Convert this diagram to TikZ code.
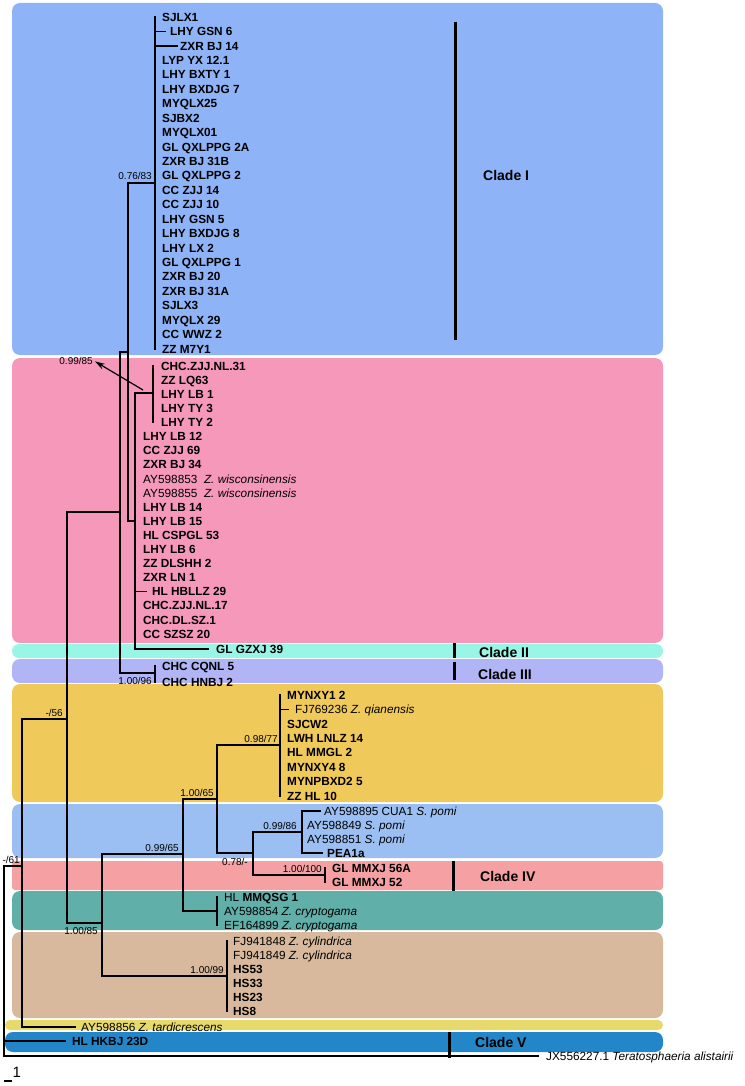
\documentclass[tikz,border=0pt]{standalone}
\usepackage{fontspec}
\setmainfont{Liberation Sans}
\usetikzlibrary{arrows.meta}
\definecolor{cI}{HTML}{8EB4F7}
\definecolor{cPink}{HTML}{F598BA}
\definecolor{cII}{HTML}{99F5E5}
\definecolor{cIII}{HTML}{B1B4F5}
\definecolor{cOr}{HTML}{F0C95B}
\definecolor{cBl}{HTML}{9BBFF2}
\definecolor{cIV}{HTML}{F5A0A2}
\definecolor{cTeal}{HTML}{61AFA9}
\definecolor{cTan}{HTML}{D8B99D}
\definecolor{cYel}{HTML}{E8D96B}
\definecolor{cV}{HTML}{2286C8}
\newcommand\tipfont{\fontsize{11.8}{13}\selectfont}
\tikzset{
  br/.style={line width=1.3pt, line cap=rect},
  tipn/.style={anchor=west, inner sep=0pt, text height=8.5pt, text depth=0pt, font=\tipfont\bfseries},
  accn/.style={tipn, font=\tipfont},
  supl/.style={anchor=base east, inner sep=0pt, font=\fontsize{10}{11}\selectfont},
  cladelab/.style={anchor=west, inner sep=0pt, font=\fontsize{14}{16}\selectfont\bfseries},
  cbar/.style={line width=3pt},
  bgbox/.style={rounded corners=8pt},
}
\begin{document}
\begin{tikzpicture}[x=1pt,y=-1pt]
\useasboundingbox (0,0) rectangle (744,1086);
% background boxes
\fill[cI,bgbox] (12,3) rectangle (663,355);
\fill[cPink,bgbox] (12,358) rectangle (663,643);
\fill[cII,rounded corners=7pt] (12,644) rectangle (663,658);
\fill[cIII,bgbox] (12,659) rectangle (663,683);
\fill[cOr,bgbox] (12,684) rectangle (663,802);
\fill[cBl,bgbox] (12,804) rectangle (663,858);
\fill[cIV,rounded corners=3pt] (12,861) rectangle (663,890);
\fill[cTeal,bgbox] (12,891) rectangle (663,930);
\fill[cTan,bgbox] (12,932) rectangle (663,1018);
\fill[cYel,rounded corners=5pt] (5,1020) rectangle (663,1030);
\fill[cV,bgbox] (5,1032) rectangle (663,1052);

% internal node coordinates
\coordinate (R) at (4,866);
\coordinate (N61) at (22,866);
\coordinate (N56) at (67,719);
\coordinate (NA) at (120,512);
\coordinate (NB) at (128,352);
\coordinate (C1) at (155,183);
\coordinate (PK) at (135,521);
\coordinate (PS) at (153,393);
\coordinate (C3) at (155,673);
\coordinate (N85) at (102,923);
\coordinate (N9965) at (183,854);
\coordinate (N65) at (217,799);
\coordinate (N77) at (280,745);
\coordinate (N78) at (253,853);
\coordinate (N86) at (302,832);
\coordinate (N100) at (325,875);
\coordinate (CR) at (217,911);
\coordinate (N99) at (227,976);

% Clade I tips
\node[tipn] (c1) at (162,17.0) {SJLX1};
\node[tipn] (c2) at (170,31.4) {LHY GSN 6};
\node[tipn] (c3) at (180,45.9) {ZXR BJ 14};
\node[tipn] (c4) at (162,60.3) {LYP YX 12.1};
\node[tipn] (c5) at (162,74.7) {LHY BXTY 1};
\node[tipn] (c6) at (162,89.2) {LHY BXDJG 7};
\node[tipn] (c7) at (162,103.6) {MYQLX25};
\node[tipn] (c8) at (162,118.0) {SJBX2};
\node[tipn] (c9) at (162,132.4) {MYQLX01};
\node[tipn] (c10) at (162,146.9) {GL QXLPPG 2A};
\node[tipn] (c11) at (162,161.3) {ZXR BJ 31B};
\node[tipn] (c12) at (162,175.7) {GL QXLPPG 2};
\node[tipn] (c13) at (162,190.2) {CC ZJJ 14};
\node[tipn] (c14) at (162,204.6) {CC ZJJ 10};
\node[tipn] (c15) at (162,219.0) {LHY GSN 5};
\node[tipn] (c16) at (162,233.5) {LHY BXDJG 8};
\node[tipn] (c17) at (162,247.9) {LHY LX 2};
\node[tipn] (c18) at (162,262.3) {GL QXLPPG 1};
\node[tipn] (c19) at (162,276.7) {ZXR BJ 20};
\node[tipn] (c20) at (162,291.2) {ZXR BJ 31A};
\node[tipn] (c21) at (162,305.6) {SJLX3};
\node[tipn] (c22) at (162,320.0) {MYQLX 29};
\node[tipn] (c23) at (162,334.5) {CC WWZ 2};
\node[tipn] (c24) at (162,348.9) {ZZ M7Y1};

% pink tips
\node[tipn] (p1) at (161,366.0) {CHC.ZJJ.NL.31};
\node[tipn] (p2) at (161,380.1) {ZZ LQ63};
\node[tipn] (p3) at (161,394.2) {LHY LB 1};
\node[tipn] (p4) at (161,408.3) {LHY TY 3};
\node[tipn] (p5) at (161,422.4) {LHY TY 2};
\node[tipn] (p6) at (143,436.5) {LHY LB 12};
\node[tipn] (p7) at (143,450.6) {CC ZJJ 69};
\node[tipn] (p8) at (143,464.7) {ZXR BJ 34};
\node[accn] (p9) at (143,478.8) {AY598853\ \ \textit{Z. wisconsinensis}};
\node[accn] (p10) at (143,492.9) {AY598855\ \ \textit{Z. wisconsinensis}};
\node[tipn] (p11) at (143,507.0) {LHY LB 14};
\node[tipn] (p12) at (143,521.1) {LHY LB 15};
\node[tipn] (p13) at (143,535.2) {HL CSPGL 53};
\node[tipn] (p14) at (143,549.3) {LHY LB 6};
\node[tipn] (p15) at (143,563.4) {ZZ DLSHH 2};
\node[tipn] (p16) at (143,577.5) {ZXR LN 1};
\node[tipn] (p17) at (152,591.6) {HL HBLLZ 29};
\node[tipn] (p18) at (143,605.7) {CHC.ZJJ.NL.17};
\node[tipn] (p19) at (143,619.8) {CHC.DL.SZ.1};
\node[tipn] (p20) at (143,633.9) {CC SZSZ 20};
\node[tipn] (g39) at (216,649.0) {GL GZXJ 39};
% clade III
\node[tipn] (t1) at (162,666) {CHC CQNL 5};
\node[tipn] (t2) at (162,682) {CHC HNBJ 2};
% orange
\node[tipn] (o1) at (287,695.0) {MYNXY1 2};
\node[accn] (o2) at (295,709.4) {FJ769236 \textit{Z. qianensis}};
\node[tipn] (o3) at (287,723.9) {SJCW2};
\node[tipn] (o4) at (287,738.3) {LWH LNLZ 14};
\node[tipn] (o5) at (287,752.7) {HL MMGL 2};
\node[tipn] (o6) at (287,767.2) {MYNXY4 8};
\node[tipn] (o7) at (287,781.6) {MYNPBXD2 5};
\node[tipn] (o8) at (287,796.0) {ZZ HL 10};
% blue 2
\node[accn] (b1) at (324,811) {AY598895 CUA1 \textit{S. pomi}};
\node[accn] (b2) at (307,825) {AY598849 \textit{S. pomi}};
\node[accn] (b3) at (307,839) {AY598851 \textit{S. pomi}};
\node[tipn] (b4) at (327,853) {PEA1a};
% clade IV
\node[tipn] (s1) at (332,868) {GL MMXJ 56A};
\node[tipn] (s2) at (332,882) {GL MMXJ 52};
% teal
\node[tipn] (e1) at (224,897) {{\mdseries HL} MMQSG 1};
\node[accn] (e2) at (224,911) {AY598854 \textit{Z. cryptogama}};
\node[accn] (e3) at (224,925) {EF164899 \textit{Z. cryptogama}};
% tan
\node[accn] (h1) at (233,941) {FJ941848 \textit{Z. cylindrica}};
\node[accn] (h2) at (233,955) {FJ941849 \textit{Z. cylindrica}};
\node[tipn] (h3) at (233,969) {HS53};
\node[tipn] (h4) at (233,983) {HS33};
\node[tipn] (h5) at (233,997) {HS23};
\node[tipn] (h6) at (233,1011) {HS8};
% outgroups
\node[accn] (tard) at (81,1027) {AY598856 \textit{Z. tardicrescens}};
\node[tipn] (hkbj) at (72,1041) {HL HKBJ 23D};
\node[accn] (tera) at (546,1056) {JX556227.1 \textit{Teratosphaeria alistairii}};

% branches: Clade I
\draw[br] (C1 |- c1.west) -- (C1 |- c24.west);
\draw[br] (C1 |- c2.west) -- ([xshift=-5pt]c2.west);
\draw[br] (C1 |- c3.west) -- ([xshift=-3pt]c3.west);
\draw[br] (NB |- C1) -- (C1);
\draw[br] (NB |- C1) -- (NB |- PK);
\draw[br] (NA |- NB) -- (NB);
% pink
\draw[br] (NB |- PK) -- (PK);
\draw[br] (PK |- PS) -- (PK |- g39.west);
\draw[br] (PK |- PS) -- (PS);
\draw[br] (PS |- p1.west) -- (PS |- p5.west);
\draw[br] (PK |- p17.west) -- ([xshift=-6pt]p17.west);
\draw[br] (PK |- g39.west) -- ([xshift=-8pt]g39.west);
% clade III and NA
\draw[br] (NA |- NB) -- (NA |- C3);
\draw[br] (NA |- C3) -- (C3);
\draw[br] (C3 |- t1.west) -- (C3 |- t2.west);
% deeper nodes
\draw[br] (N56 |- NA) -- (NA);
\draw[br] (N56 |- NA) -- (N56 |- N85);
\draw[br] (N56 |- N85) -- (N85);
\draw[br] (N61 |- N56) -- (N56);
\draw[br] (N61 |- N56) -- (N61 |- tard.west);
\draw[br] (N61 |- tard.west) -- ([xshift=-6pt]tard.west);
\draw[br] (R) -- (N61);
\draw[br] (R) -- (R |- tera.west);
\draw[br] (R |- hkbj.west) -- ([xshift=-7pt]hkbj.west);
\draw[br] (R |- tera.west) -- ([xshift=-8pt]tera.west);
% N85
\draw[br] (N85 |- N9965) -- (N85 |- N99);
\draw[br] (N85 |- N9965) -- (N9965);
\draw[br] (N85 |- N99) -- (N99);
\draw[br] (N99 |- h1.west) -- (N99 |- h6.west);
% N9965
\draw[br] (N9965 |- N65) -- (N9965 |- CR);
\draw[br] (N9965 |- N65) -- (N65);
\draw[br] (N9965 |- CR) -- (CR);
\draw[br] (CR |- e1.west) -- (CR |- e3.west);
% N65
\draw[br] (N65 |- N77) -- (N65 |- N78);
\draw[br] (N65 |- N77) -- (N77);
\draw[br] (N65 |- N78) -- (N78);
\draw[br] (N77 |- o1.west) -- (N77 |- o8.west);
\draw[br] (N77 |- o2.west) -- ([xshift=-7pt]o2.west);
% N78
\draw[br] (N78 |- N86) -- (N78 |- N100);
\draw[br] (N78 |- N86) -- (N86);
\draw[br] (N78 |- N100) -- (N100);
\draw[br] (N86 |- b1.west) -- (N86 |- b4.west);
\draw[br] (N86 |- b1.west) -- ([xshift=-4pt]b1.west);
\draw[br] (N86 |- b4.west) -- ([xshift=-5pt]b4.west);
\draw[br] (N100 |- s1.west) -- (N100 |- s2.west);

% support values
\node[supl] (l7683) at (152,180) {0.76/83};
\node[supl] (l61) at (20,863) {-/61};
\node[supl] (l56) at (63,716) {-/56};
\node[supl] (l96) at (152,684.5) {1.00/96};
\node[supl] (l77) at (278,742) {0.98/77};
\node[supl] (l65) at (214,796) {1.00/65};
\node[supl] (l9965) at (179,851) {0.99/65};
\node[supl] (l86) at (297,829) {0.99/86};
\node[supl] (l78) at (248,865) {0.78/-};
\node[supl] (l100) at (322,872) {1.00/100};
\node[supl] (l85) at (98,934) {1.00/85};
\node[supl] (l99) at (224,973) {1.00/99};
\node[supl] (l9985) at (93,364) {0.99/85};
\coordinate (arrtail) at (143,390);
\draw[line width=1.2pt,-{Stealth[length=10pt,width=6pt]}] (arrtail) -- ([xshift=2pt,yshift=-1pt]l9985.east);

% clade bars and labels
\draw[cbar] (455,22) -- (455,340);
\node[cladelab] (lI) at (483,175) {Clade I};
\draw[cbar] (454,643) -- (454,658);
\node[cladelab] (lII) at (479,652) {Clade II};
\draw[cbar] (454,662) -- (454,680);
\node[cladelab] (lIII) at (478,674) {Clade III};
\draw[cbar] (453,861) -- (453,891);
\node[cladelab] (lIV) at (480,876) {Clade IV};
\draw[cbar] (449,1032) -- (449,1058);
\node[cladelab] (lV) at (475,1042) {Clade V};

% scale bar
\coordinate (sb1) at (4,1081);
\coordinate (sb2) at (12,1081);
\draw[line width=1.3pt] (sb1) -- (sb2);
\node[anchor=base west, inner sep=0pt, font=\fontsize{15}{16}\selectfont] (sbl) at (12.5,1077.5) {1};
\end{tikzpicture}
\end{document}
